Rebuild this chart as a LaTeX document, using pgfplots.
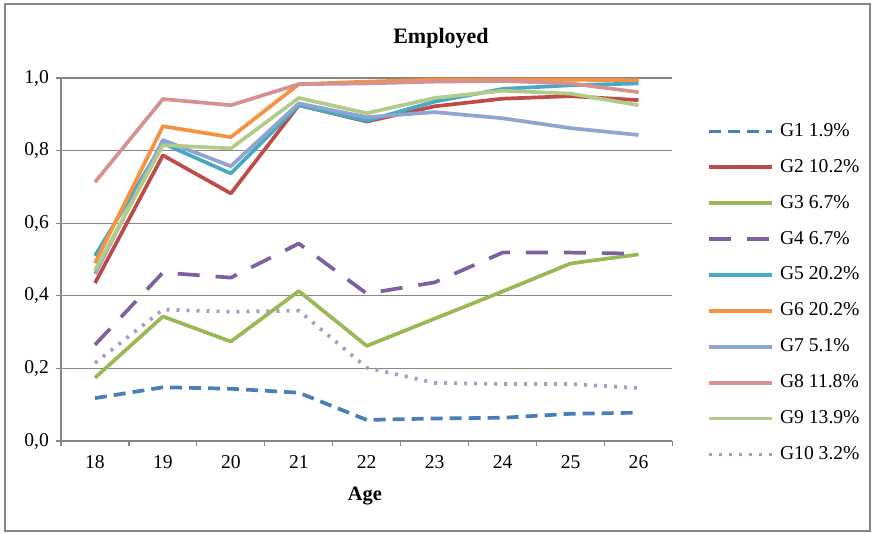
\documentclass[border=0pt]{standalone}
\usepackage{pgfplots}
\pgfplotsset{compat=1.18}
\usepackage{fontspec}
\setmainfont{Liberation Serif}
\definecolor{cG1}{HTML}{4A7EBB}
\definecolor{cG2}{HTML}{BE4B48}
\definecolor{cG3}{HTML}{98B954}
\definecolor{cG4}{HTML}{7D60A0}
\definecolor{cG5}{HTML}{46AAC5}
\definecolor{cG6}{HTML}{F69240}
\definecolor{cG7}{HTML}{8FA5CF}
\definecolor{cG8}{HTML}{D5928F}
\definecolor{cG9}{HTML}{B3CB8A}
\definecolor{cG10}{HTML}{A99BC6}
\definecolor{axgray}{HTML}{868686}
\begin{document}
\begin{tikzpicture}
\useasboundingbox (-30.5pt,-46.5pt) rectangle (407pt,220.5pt);
\draw[axgray, line width=0.6pt] (-28pt,-45pt) rectangle (404.5pt,218.5pt);
\begin{axis}[
  at={(0pt,0pt)}, anchor=south west,
  scale only axis, width=305.75pt, height=181.5pt,
  xmin=17.5, xmax=26.5, ymin=0, ymax=1,
  axis lines*=left,
  axis line style={axgray, line width=0.6pt, -},
  xtick={18,...,26},
  minor xtick={17.5,18.5,...,26.5},
  ytick={0,0.2,...,1.0},
  ymajorgrids,
  grid style={axgray, line width=0.6pt},
  tick align=outside,
  major tick length=2.5pt, minor tick length=2.5pt,
  every major x tick/.style={draw=none},
  every minor tick/.append style={axgray, line width=0.6pt},
  every major y tick/.append style={axgray, line width=0.6pt},
  tick label style={font=\fontsize{9.8}{11}\selectfont},
  /pgf/number format/assume math mode=true,
  yticklabel style={/pgf/number format/.cd, fixed, fixed zerofill, precision=1, use comma},
  xticklabel style={/pgf/number format/1000 sep={}, yshift=-1pt},
  title={\textbf{Employed}},
  title style={at={(rel axis cs:0.6214,1.0771)}, anchor=center, font=\fontsize{11}{12}\selectfont},
  xlabel={\textbf{Age}},
  xlabel style={at={(rel axis cs:0.497,-0.1515)}, anchor=center, font=\fontsize{10.2}{12}\selectfont},
  legend cell align=left,
  legend style={at={(rel axis cs:1.0564,0.8788)}, anchor=north west, draw=none, fill=none,
    inner sep=0pt, row sep=8.95pt,
    font=\fontsize{9.8}{11}\selectfont,
    nodes={inner sep=0pt, text height=7pt, text depth=2pt},
    /tikz/every odd column/.append style={column sep=3pt}},
  legend image code/.code={\draw[#1] (0pt,0pt) -- (31.5pt,0pt);},
  every axis plot/.append style={line width=1.85pt, line join=round},
]
\addplot[cG1, dash pattern=on 6pt off 3.5pt] coordinates {(18,0.118) (19,0.148) (20,0.144) (21,0.133) (22,0.058) (23,0.062) (24,0.064) (25,0.075) (26,0.078)};
\addlegendentry{G1 1.9\%}
\addplot[cG2] coordinates {(18,0.435) (19,0.787) (20,0.682) (21,0.925) (22,0.880) (23,0.922) (24,0.943) (25,0.950) (26,0.939)};
\addlegendentry{G2 10.2\%}
\addplot[cG3] coordinates {(18,0.174) (19,0.343) (20,0.274) (21,0.413) (22,0.262) (23,0.337) (24,0.412) (25,0.489) (26,0.514)};
\addlegendentry{G3 6.7\%}
\addplot[cG4, dash pattern=on 11pt off 8pt] coordinates {(18,0.265) (19,0.464) (20,0.450) (21,0.544) (22,0.406) (23,0.437) (24,0.519) (25,0.519) (26,0.516)};
\addlegendentry{G4 6.7\%}
\addplot[cG5] coordinates {(18,0.510) (19,0.820) (20,0.737) (21,0.925) (22,0.882) (23,0.935) (24,0.970) (25,0.980) (26,0.985)};
\addlegendentry{G5 20.2\%}
\addplot[cG6] coordinates {(18,0.490) (19,0.867) (20,0.837) (21,0.983) (22,0.990) (23,0.995) (24,0.995) (25,0.995) (26,0.994)};
\addlegendentry{G6 20.2\%}
\addplot[cG7] coordinates {(18,0.460) (19,0.829) (20,0.757) (21,0.930) (22,0.892) (23,0.906) (24,0.889) (25,0.862) (26,0.843)};
\addlegendentry{G7 5.1\%}
\addplot[cG8] coordinates {(18,0.713) (19,0.942) (20,0.925) (21,0.983) (22,0.985) (23,0.990) (24,0.992) (25,0.985) (26,0.961)};
\addlegendentry{G8 11.8\%}
\addplot[cG9] coordinates {(18,0.470) (19,0.815) (20,0.806) (21,0.945) (22,0.903) (23,0.945) (24,0.965) (25,0.957) (26,0.925)};
\addlegendentry{G9 13.9\%}
\addplot[cG10, dash pattern=on 1.5pt off 3.5pt] coordinates {(18,0.215) (19,0.362) (20,0.356) (21,0.359) (22,0.202) (23,0.160) (24,0.157) (25,0.157) (26,0.146)};
\addlegendentry{G10 3.2\%}
\end{axis}
\end{tikzpicture}
\end{document}
